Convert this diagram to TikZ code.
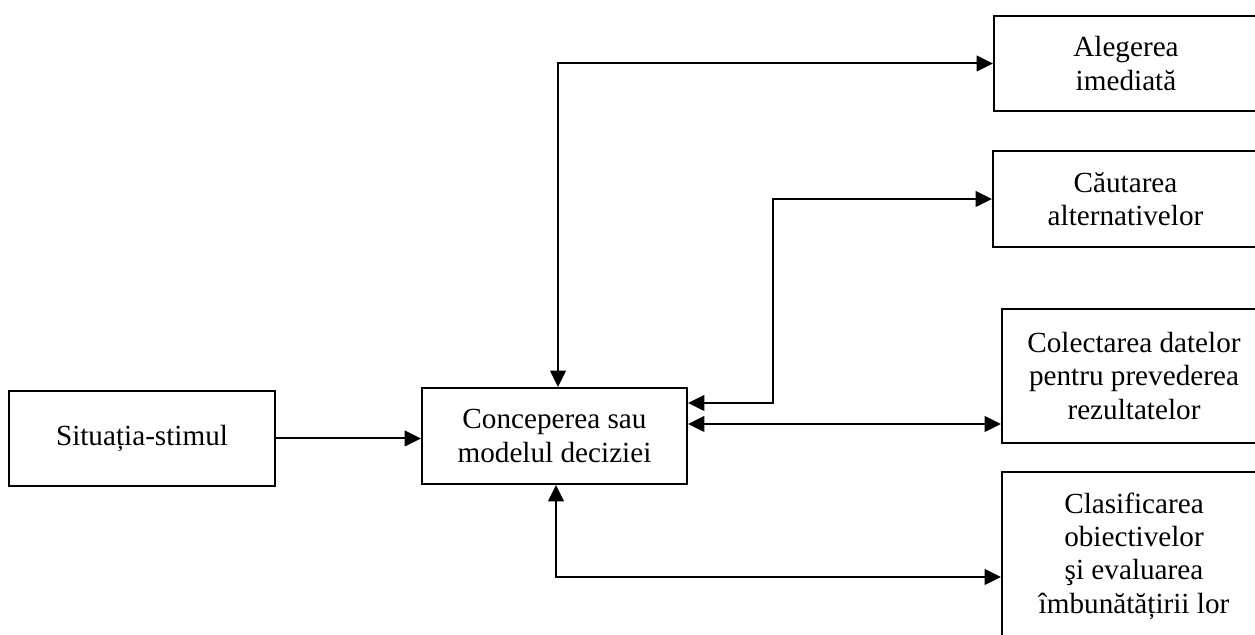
\documentclass[tikz,border=0pt]{standalone}
\usepackage{fontspec}
\setmainfont{Liberation Serif}
\usetikzlibrary{arrows.meta}
\begin{document}
\begin{tikzpicture}[x=0.5pt,y=-0.5pt,
  box/.style={draw, line width=1pt, align=center, inner sep=0pt,
    font=\fontsize{14.6}{16.7}\selectfont},
  tip/.tip={Triangle[length=8.2pt,width=7.8pt]},
  link/.style={line width=1pt, -tip},
  both/.style={line width=1pt, tip-tip}]
\useasboundingbox (0,0) rectangle (1255,635);
\clip (0,0) rectangle (1255,635);

% boxes
\node[box, minimum width=133pt, minimum height=47.5pt] (stim) at (142,438.5) {Situația-stimul};
\node[box, minimum width=132.5pt, minimum height=48pt] (concept) at (554.5,436) {Conceperea sau\\modelul deciziei};
\node[box, minimum width=132pt, minimum height=47.5pt] (alegerea) at (1126,63.5) {Alegerea\\imediată};
\node[box, minimum width=132.5pt, minimum height=48pt] (cautarea) at (1125.5,199) {Căutarea\\alternativelor};
\node[box, minimum width=132pt, minimum height=67pt] (colectarea) at (1134,376) {Colectarea datelor\\pentru prevederea\\rezultatelor};
\node[box, minimum width=132pt, minimum height=84pt] (clasif) at (1134,556) {Clasificarea\\obiectivelor\\şi evaluarea\\îmbunătățirii lor};

% connectors
\draw[link] (stim.east) -- (stim.east -| concept.west);
\draw[both] ([xshift=1.75pt]concept.north) |- (alegerea.west);
\draw[both] ([yshift=16.5pt]concept.east) -- ++(85,0) |- (cautarea.west);
\draw[both] ([yshift=6pt]concept.east) coordinate (q) -- (q -| colectarea.west);
\draw[both] ([xshift=0.75pt]concept.south) |- ([yshift=-10.5pt]clasif.west);
\end{tikzpicture}
\end{document}
